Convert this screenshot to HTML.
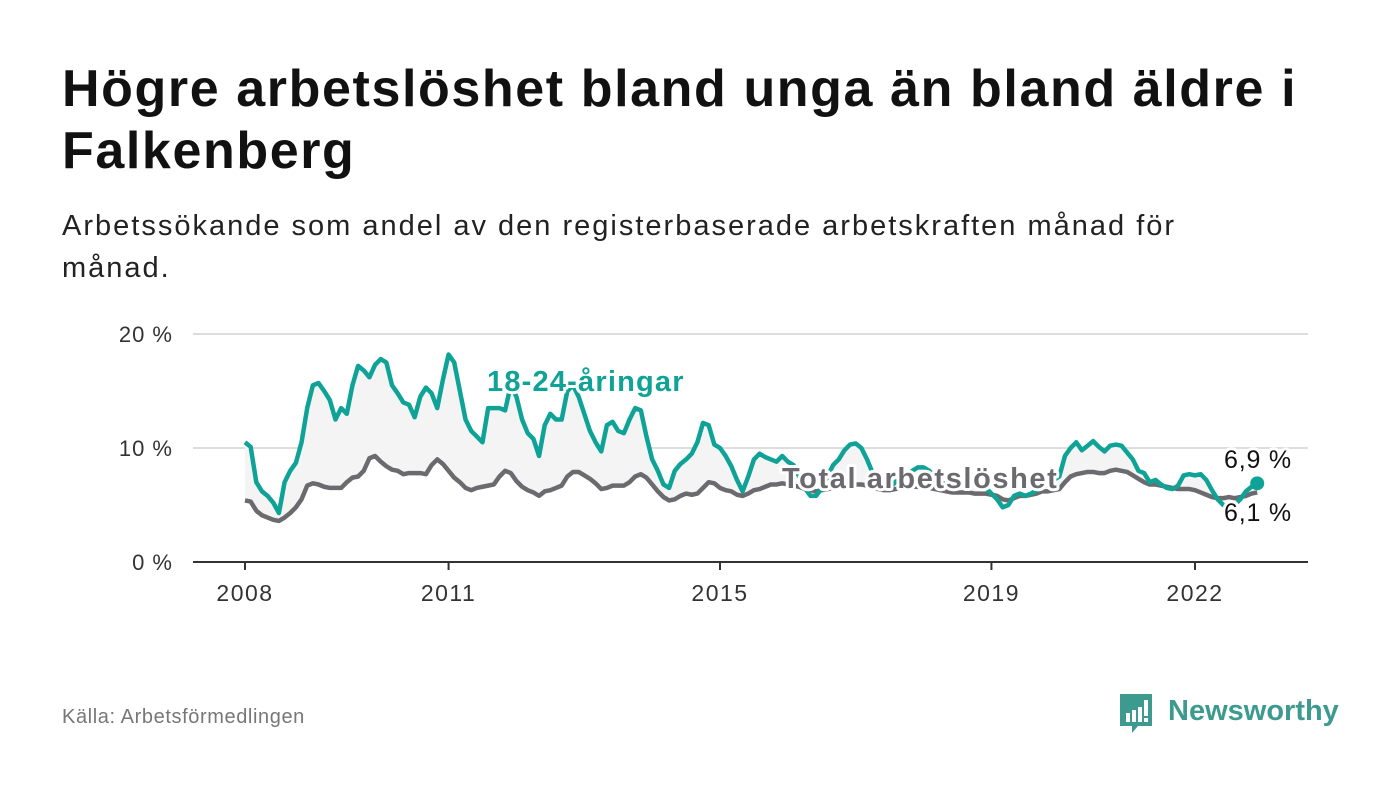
<!DOCTYPE html>
<html><head><meta charset="utf-8"><style>
body{margin:0;background:#fff;font-family:"Liberation Sans","DejaVu Sans",sans-serif;}
#wrap{position:relative;width:1400px;height:794px;overflow:hidden}
h1{position:absolute;left:62px;top:58px;margin:0;font-size:52px;line-height:62px;letter-spacing:1.6px;font-weight:bold;color:#111;width:1300px}
.sub{position:absolute;left:62px;top:205px;font-size:29px;line-height:42px;letter-spacing:2px;color:#222;width:1190px}
.src{position:absolute;left:62px;top:706px;font-size:20px;letter-spacing:0.6px;color:#777}
.logo{position:absolute;left:1118px;top:692px}
</style></head><body><div id="wrap">
<h1>Högre arbetslöshet bland unga än bland äldre i Falkenberg</h1>
<div class="sub">Arbetssökande som andel av den registerbaserade arbetskraften månad för månad.</div>
<svg id="chart" width="1400" height="794" style="position:absolute;left:0;top:0"></svg>
<div class="src">Källa: Arbetsförmedlingen</div>
<div class="logo">
<svg width="230" height="50">
<path d="M2 2h32v32h-14l-6 7v-7h-12z" fill="#3d9a8f"/>
<rect x="8" y="21" width="4" height="9" fill="#fff"/><rect x="14" y="18" width="4" height="12" fill="#fff"/><rect x="20" y="15" width="4" height="15" fill="#fff"/><rect x="26" y="8" width="4" height="16" fill="#fff"/><rect x="26" y="26" width="4" height="4" fill="#fff"/>
<text x="50" y="28" font-size="29" font-weight="bold" fill="#3d9a8f" font-family="Liberation Sans, sans-serif">Newsworthy</text>
</svg></div>
</div>
<script>
const yearTicks=[2008,2011,2015,2019,2022];
const yTicks=[0,10,20];
const youth=[10.5,10.1,7,6.2,5.8,5.2,4.3,7,8,8.7,10.5,13.5,
15.5,15.7,15,14.2,12.5,13.5,13,15.5,17.2,16.8,16.2,17.3,
17.8,17.5,15.5,14.8,14,13.8,12.7,14.5,15.3,14.8,13.5,16,
18.2,17.5,15,12.5,11.5,11,10.5,13.5,13.5,13.5,13.3,15.5,
14.5,12.5,11.3,10.8,9.3,12,13,12.5,12.5,15,15.5,14.5,
13,11.5,10.5,9.7,12,12.3,11.5,11.3,12.5,13.5,13.3,11,
9,8,6.8,6.5,8,8.6,9,9.5,10.5,12.2,12,10.3,
10,9.3,8.4,7.2,6.2,7.5,9,9.5,9.2,9,8.8,9.3,
8.8,8.5,7.5,6.5,5.8,5.8,6.5,7.5,8.5,9,9.8,10.3,
10.4,10,9,7.8,7,6.5,6.5,7,7.5,7.5,8,8.3,
8.3,8,7.5,7,6.8,6.5,6.5,6.8,7,7,6.8,6.5,
6,5.5,4.8,5,5.8,6,5.8,6,6.3,6.5,7.3,7.2,
7.5,9.3,10,10.5,9.8,10.2,10.6,10.1,9.7,10.2,10.3,10.2,
9.6,9,8,7.8,7,7.2,6.8,6.5,6.4,6.7,7.6,7.7,
7.6,7.7,7.2,6.3,5.5,5,4.6,5,5.5,6.2,6.6,6.9];
const total=[5.4,5.3,4.5,4.1,3.9,3.7,3.6,3.9,4.3,4.8,5.5,6.7,
6.9,6.8,6.6,6.5,6.5,6.5,7,7.4,7.5,8,9.1,9.3,
8.8,8.4,8.1,8,7.7,7.8,7.8,7.8,7.7,8.5,9,8.6,
8,7.4,7,6.5,6.3,6.5,6.6,6.7,6.8,7.5,8,7.8,
7.1,6.6,6.3,6.1,5.8,6.2,6.3,6.5,6.7,7.5,7.9,7.9,
7.6,7.3,6.9,6.4,6.5,6.7,6.7,6.7,7,7.5,7.7,7.4,
6.8,6.2,5.7,5.4,5.5,5.8,6,5.9,6,6.5,7,6.9,
6.5,6.3,6.2,5.9,5.8,6,6.3,6.4,6.6,6.8,6.8,6.9,
6.8,6.7,6.6,6.4,6.3,6.2,6.3,6.4,6.5,6.6,6.7,6.8,
6.8,6.8,6.7,6.5,6.4,6.3,6.3,6.4,6.5,6.5,6.6,6.6,
6.5,6.5,6.4,6.3,6.2,6.1,6.1,6.1,6.1,6,6,6,
5.9,5.8,5.5,5.4,5.6,5.8,5.8,5.9,6,6.2,6.2,6.3,
6.4,7,7.5,7.7,7.8,7.9,7.9,7.8,7.8,8,8.1,8,
7.9,7.6,7.3,7,6.8,6.8,6.7,6.6,6.5,6.4,6.4,6.4,
6.3,6.1,5.9,5.7,5.6,5.6,5.7,5.6,5.7,5.8,6,6.1];
const NS='http://www.w3.org/2000/svg';
const svg=document.getElementById('chart');
const x=i=>245+i*(1195-245)/168;
const xYear=y=>x((y-2008)*12);
const yv=v=>562-v*11.4;
function mk(t,a){const e=document.createElementNS(NS,t);for(const k in a)e.setAttribute(k,a[k]);svg.appendChild(e);return e;}
yTicks.forEach(t=>{
 const l=mk('line',{x1:193,x2:1308,y1:yv(t),y2:yv(t),stroke:t?'#ddd':'#333','stroke-width':2});
 
 
 const tx=mk('text',{x:173,y:yv(t)+8,'text-anchor':'end','font-size':22,fill:'#333','letter-spacing':1});
 tx.textContent=t+' %';
 
 
});
yearTicks.forEach(y=>{
 const l=mk('line',{x1:xYear(y),x2:xYear(y),y1:562,y2:570,stroke:'#333','stroke-width':2});
 
 
 const tx=mk('text',{x:xYear(y),y:601,'text-anchor':'middle','font-size':23,fill:'#333','letter-spacing':1.5});
 tx.textContent=y;
 
 
});
const n=youth.length;
let area='M'+youth.map((v,i)=>x(i)+','+yv(v)).join('L');
for(let i=n-1;i>=0;i--)area+='L'+x(i)+','+yv(total[i]);
const ar=mk('path',{d:area+'Z',fill:'#f4f4f4'});


const lt=mk('path',{d:'M'+total.map((v,i)=>x(i)+','+yv(v)).join('L'),fill:'none',stroke:'#6b6a6e','stroke-width':4.5,'stroke-linejoin':'round'});


const ly=mk('path',{d:'M'+youth.map((v,i)=>x(i)+','+yv(v)).join('L'),fill:'none',stroke:'#0fa397','stroke-width':4.5,'stroke-linejoin':'round'});


const dt=mk('circle',{cx:x(n-1),cy:yv(youth[n-1]),r:7,fill:'#0fa397'});


function lab(t,xx,yy,c,fs,w,ls,name){const e=mk('text',{x:xx,y:yy,'font-size':fs,'font-weight':w,fill:c,stroke:'#fff','stroke-width':6,'paint-order':'stroke','stroke-linejoin':'round','letter-spacing':ls});e.textContent=t;
 
 }
lab('18-24-åringar',487,391,'#0fa397',29,'bold',1.2,'youth-series-label');
lab('Total arbetslöshet',782,488,'#6b6a6e',29,'bold',1.6,'total-series-label');
lab('6,9 %',1224,468,'#111',25,'normal',0.8,'youth-end-value');
lab('6,1 %',1224,521,'#111',25,'normal',0.8,'total-end-value');
</script></body></html>
